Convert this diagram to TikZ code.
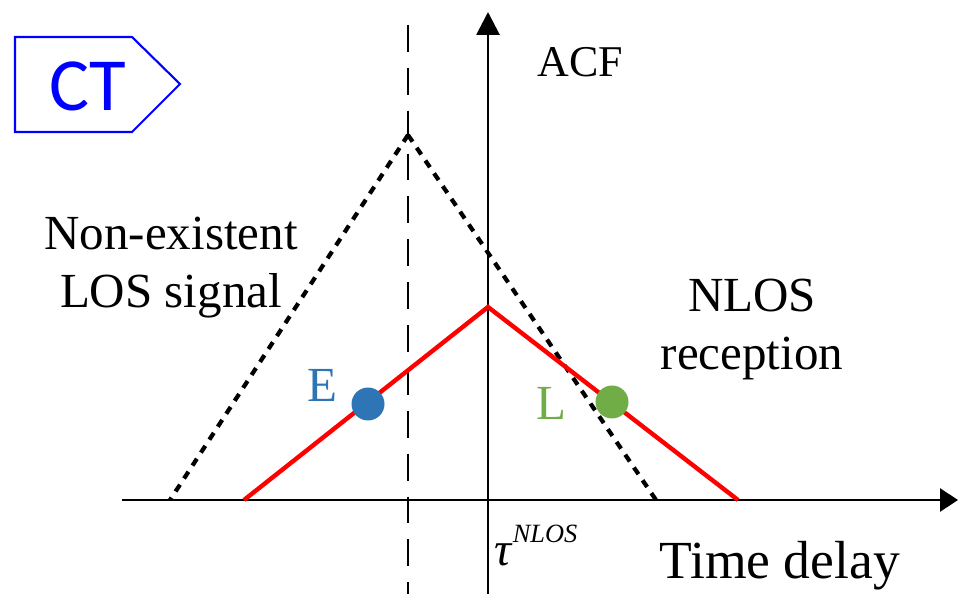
\documentclass[tikz,border=0pt]{standalone}
\usepackage{fontspec}
\setmainfont{Liberation Serif}
\newfontfamily\ctfont{Carlito}
\usetikzlibrary{arrows.meta}
\definecolor{eblue}{RGB}{46,117,182}
\definecolor{lgreen}{RGB}{112,173,71}
\definecolor{ctblue}{RGB}{0,0,255}
\tikzset{
  vaxis/.style={line width=1.6pt,-{Triangle[length=0.46cm,width=0.46cm]}},
  haxis/.style={line width=1.6pt,-{Triangle[length=0.36cm,width=0.46cm]}},
  dotline/.style={line width=2.4pt,dash pattern=on 4.6pt off 4.2pt,black},
  redline/.style={line width=2.5pt,red},
  vdash/.style={line width=1.6pt,dash pattern=on 15.3pt off 9.1pt},
  lbl/.style={font=\fontsize{27.9}{33}\selectfont,inner sep=0pt},
  dot/.style={circle,minimum size=0.66cm,inner sep=0pt},
}
\begin{document}
\begin{tikzpicture}[x=0.02cm,y=-0.02cm]
\useasboundingbox (0,0) rectangle (959,594);
% coordinates
\coordinate (xs) at (122,500);
\coordinate (xe) at (958,500);
\coordinate (ys) at (488,594);
\coordinate (ye) at (488,12);
\coordinate (ds) at (408,600);
\coordinate (de) at (408,25);
\coordinate (bl) at (170,500);
\coordinate (bp) at (408,135);
\coordinate (br) at (656,500);
\coordinate (rl) at (244,500);
\coordinate (rp) at (488,307);
\coordinate (rr) at (738,500);
% dashed vertical
\draw[vdash] (de) -- (ds);
% axes
\draw[haxis] (xs) -- (xe);
\draw[vaxis] (ys) -- (ye);
% triangles
\draw[dotline] (bp) -- (bl);
\draw[dotline] (bp) -- (br);
\draw[redline] (rl) -- (rp) -- (rr);
% points
\node[dot,fill=eblue] (E) at (368,404) {};
\node[dot,fill=lgreen] (L) at (612,402) {};
\node[lbl,text=eblue] (Elab) at (322,385) {E};
\node[lbl,text=lgreen] (Llab) at (551,403) {L};
% labels
\node[lbl,font=\fontsize{25}{30}\selectfont] (acf) at (580,62) {ACF};
\node[lbl,align=center] (los) at (171,268) {Non-existent\\LOS signal};
\node[lbl,align=center] (nlos) at (752,329) {NLOS\\reception};
\node[lbl,anchor=base west,font=\fontsize{30.5}{36}\selectfont] (td) at (659,578) {Time delay};
\node[lbl,anchor=base west,font=\fontsize{27}{32}\selectfont] (tau) at (494,565) {\textit{τ}\raisebox{0.48em}{\fontsize{15}{18}\selectfont\textit{NLOS}}};
% CT tag
\draw[ctblue,line width=1.2pt] (15,37) -- (132,37) -- (180,84) -- (132,132) -- (15,132) -- cycle;
\node[inner sep=0pt,text=ctblue,font=\ctfont\fontsize{42.7}{50}\selectfont] (ct) at (88,86) {CT};
\end{tikzpicture}
\end{document}
